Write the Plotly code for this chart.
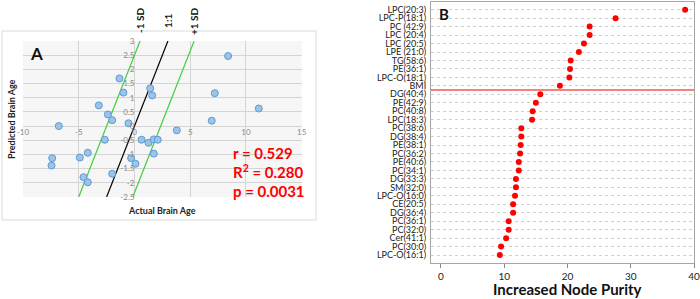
import plotly.graph_objects as go

W, H = 700, 299

# ---------------- Panel A data ----------------
actual_age = [-6.79, -1.35, -0.99, -3.2, -2.39, -2.0, -0.54, -2.66, 1.41, 1.59,
              0.63, 1.26, 1.73, 2.09, 3.8, 8.4, 7.2, 6.93, 11.15, -7.38,
              -7.44, -4.9, -4.19, -4.57, -4.19, -2.0, -0.3, 0.09, 1.73]
pred_age = [0.0, 1.68, 1.18, 0.73, 0.41, 0.21, 0.1, -0.48, 1.33, 1.08,
            -0.48, -0.59, -0.47, -0.48, -0.15, 2.47, 1.16, 0.19, 0.62, -1.13,
            -1.39, -1.11, -0.94, -1.8, -1.98, -1.68, -1.13, -1.33, -0.97]

ref_names = ["-1 SD", "1:1", "+1 SD"]
ref_offsets = [2.5, 0.0, -2.35]
ref_colors = ["#3fcf3f", "#000000", "#3fcf3f"]

stats_text = ["r = 0.529", "R<sup>2</sup> = 0.280", "p = 0.0031"]

xA_ticks = [-10, -5, 0, 5, 10, 15]
xA_labels = ["-10", "-5", "0", "5", "10", "15"]
yA_ticks = [-2.5, -2, -1.5, -1, -0.5, 0, 0.5, 1, 1.5, 2, 2.5, 3]
yA_labels = ["-2.5", "-2", "-1.5", "-1", "-0.5", "0", "0.5", "1", "1.5", "2", "2.5", "3"]

# ---------------- Panel B data ----------------
features = ["LPC(20:3)", "LPC-P(18:1)", "PC (42:9)", "LPC (20:4)", "LPC (20:5)",
            "LPE (21:0)", "TG(58:6)", "PE(36:1)", "LPC-O(18:1)", "BMI",
            "DG(40:4)", "PE(42:9)", "PC(40:8)", "LPC(18:3)", "PC(38:6)",
            "DG(38:4)", "PE(38:1)", "PC(36:2)", "PE(40:6)", "PC(34:1)",
            "DG(33:3)", "SM(32:0)", "LPC-O(16:0)", "CE(20:5)", "DG(36:4)",
            "PC(36:1)", "PC(32:0)", "Cer(41:1)", "PC(30:0)", "LPC-O(16:1)"]
purity = [38.6, 27.6, 23.5, 23.5, 22.6, 21.8, 20.5, 20.4, 20.3, 18.8,
          15.7, 15.0, 14.5, 14.4, 12.7, 12.7, 12.6, 12.5, 12.3, 12.3,
          11.85, 11.85, 11.7, 11.4, 11.4, 10.7, 10.7, 10.3, 9.5, 9.3]
threshold_after = "BMI"
xB_ticks = [0, 10, 20, 30, 40]

# ---------------- helpers ----------------
def px_x(p):
    return p / W

def px_y(p):
    return 1 - p / H

yA_min, yA_max = -2.5, 3.0
xA_min, xA_max = -10.0, 15.0
xA_dom = [px_x(23), px_x(301.7)]
yA_dom = [px_y(197), px_y(41)]
xA_pos = yA_dom[0] + (0 - yA_min) / (yA_max - yA_min) * (yA_dom[1] - yA_dom[0])
yA_pos = xA_dom[0] + (0 - xA_min) / (xA_max - xA_min) * (xA_dom[1] - xA_dom[0])

fig = go.Figure()

# reference lines (y = x + offset, clipped to y range)
for name, off, col in zip(ref_names, ref_offsets, ref_colors):
    ys = [yA_min, yA_max]
    xs = [y - off for y in ys]
    fig.add_trace(go.Scatter(x=xs, y=ys, mode="lines", line=dict(color=col, width=1.2),
                             xaxis="x", yaxis="y", hoverinfo="skip", showlegend=False))

fig.add_trace(go.Scatter(x=actual_age, y=pred_age, mode="markers",
                         marker=dict(size=7, color="#9dc3e6", line=dict(color="#5b9bd5", width=1)),
                         xaxis="x", yaxis="y", showlegend=False))

# Panel B dots
fig.add_trace(go.Scatter(x=purity, y=features, mode="markers",
                         marker=dict(size=6, color="#ff0000"),
                         xaxis="x2", yaxis="y2", showlegend=False))

idx_thr = features.index(threshold_after) + 0.5

fig.update_layout(
    width=W, height=H,
    margin=dict(l=0, r=0, t=0, b=0),
    paper_bgcolor="white",
    plot_bgcolor="#f6f6f6",
    font=dict(family="Lato", color="#222"),
    xaxis=dict(domain=xA_dom, range=[xA_min, xA_max], anchor="free", position=xA_pos,
               tickvals=xA_ticks, ticktext=xA_labels, showgrid=True, gridcolor="#d4d4d4",
               gridwidth=1, zeroline=False, showline=False, ticks="",
               tickfont=dict(size=8, color="#888888"), automargin=False),
    yaxis=dict(domain=yA_dom, range=[yA_min, yA_max], anchor="free", position=yA_pos,
               tickvals=yA_ticks, ticktext=yA_labels, showgrid=True, gridcolor="#d4d4d4",
               gridwidth=1, zeroline=False, showline=False, ticks="",
               tickfont=dict(size=8, color="#888888"), automargin=False),
    xaxis2=dict(domain=[px_x(431), px_x(694)], range=[-1.58, 40], anchor="y2",
                tickvals=xB_ticks, ticks="outside", ticklen=4, tickcolor="#888888",
                showline=True, mirror=True, linecolor="#a6a6a6", linewidth=1,
                showgrid=False, zeroline=False, tickfont=dict(size=10, color="#222"),
                automargin=False),
    yaxis2=dict(domain=[px_y(263), px_y(2)], anchor="x2", type="category",
                categoryorder="array", categoryarray=features,
                tickmode="array", tickvals=features, ticktext=features,
                range=[29.94, -0.91], showgrid=True, gridcolor="#cfcfcf", griddash="dot",
                showline=True, mirror=True, linecolor="#a6a6a6", linewidth=1,
                ticks="", ticklabelstandoff=2, tickfont=dict(size=9, color="#222"), automargin=False),
)

# Plot-area of panel B should be white
fig.add_shape(type="rect", xref="x2 domain", yref="y2 domain", x0=0, x1=1, y0=0, y1=1,
              fillcolor="white", line=dict(width=0), layer="below")

# threshold line
fig.add_shape(type="line", xref="x2 domain", yref="y2", x0=0, x1=1, y0=idx_thr, y1=idx_thr,
              line=dict(color="#f4827c", width=2))

# panel A frame
fig.add_shape(type="rect", xref="paper", yref="paper", x0=px_x(2), x1=px_x(316),
              y0=px_y(220), y1=px_y(31), line=dict(color="#d9d9d9", width=1))

ann = []
# reference line labels
for name, off in zip(ref_names, ref_offsets):
    ann.append(dict(x=yA_max - off, y=px_y(21), xref="x", yref="paper", text="<b>%s</b>" % name,
                    textangle=-90, showarrow=False, font=dict(size=10, color="#111"),
                    xanchor="center", yanchor="middle"))
# stats text
for i, t in enumerate(stats_text):
    ann.append(dict(x=px_x(231), y=px_y(153 + 19 * i), xref="paper", yref="paper",
                    text="<b>%s</b>" % t, showarrow=False, xanchor="left", yanchor="middle",
                    font=dict(size=15, color="#ff0000")))
# panel letters
ann.append(dict(x=px_x(36), y=px_y(53), xref="paper", yref="paper", text="<b>A</b>",
                showarrow=False, font=dict(size=17, color="#111"), xanchor="center", yanchor="middle"))
ann.append(dict(x=px_x(444), y=px_y(14), xref="paper", yref="paper", text="<b>B</b>",
                showarrow=False, font=dict(size=15, color="#111"), xanchor="center", yanchor="middle"))
# axis titles
ann.append(dict(x=px_x(162), y=px_y(210), xref="paper", yref="paper", text="<b>Actual Brain Age</b>",
                showarrow=False, font=dict(size=9, color="#222"), xanchor="center", yanchor="middle"))
ann.append(dict(x=px_x(12), y=px_y(119), xref="paper", yref="paper", text="<b>Predicted Brain Age</b>",
                textangle=-90, showarrow=False, font=dict(size=9, color="#222"),
                xanchor="center", yanchor="middle"))
ann.append(dict(x=px_x(567), y=px_y(289), xref="paper", yref="paper", text="<b>Increased Node Purity</b>",
                showarrow=False, font=dict(size=15, color="#111"), xanchor="center", yanchor="middle"))
fig.update_layout(annotations=ann)

fig.write_html("out.html", config={"displayModeBar": False},
               post_script="document.body.style.margin='0';document.body.style.overflow='hidden';")
